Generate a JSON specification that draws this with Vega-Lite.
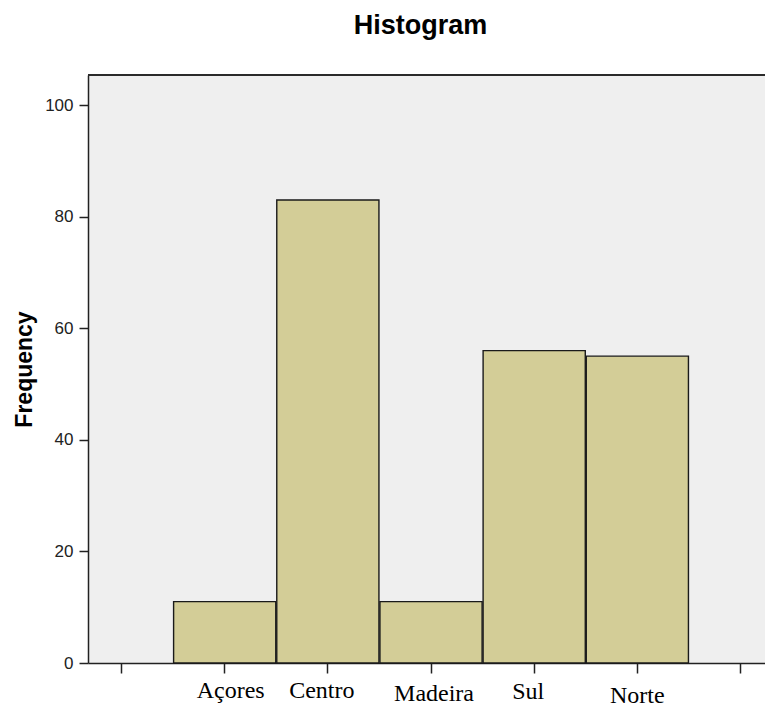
{
  "$schema": "https://vega.github.io/schema/vega-lite/v6.json",
  "width": 677,
  "height": 588,
  "autosize": {"type": "none"},
  "padding": {"left": 88, "top": 75, "right": 0, "bottom": 44},
  "background": "white",
  "title": {
    "text": "Histogram",
    "font": "Liberation Sans",
    "fontSize": 27,
    "fontWeight": "bold",
    "color": "#000000",
    "anchor": "middle",
    "offset": 34,
    "dx": -6
  },
  "config": {
    "view": {"fill": "#efefef", "stroke": null},
    "axis": {"grid": false}
  },
  "data": {
    "values": [
      {"region": "Açores", "bin_start": 1.5, "bin_end": 2.5, "count": 11},
      {"region": "Centro", "bin_start": 2.5, "bin_end": 3.5, "count": 83},
      {"region": "Madeira", "bin_start": 3.5, "bin_end": 4.5, "count": 11},
      {"region": "Sul", "bin_start": 4.5, "bin_end": 5.5, "count": 56},
      {"region": "Norte", "bin_start": 5.5, "bin_end": 6.5, "count": 55}
    ]
  },
  "encoding": {
    "y": {
      "field": "count",
      "type": "quantitative",
      "scale": {"domain": [0, 105.4], "nice": false},
      "axis": {
        "title": "Frequency",
        "titleFont": "Liberation Sans",
        "titleFontSize": 23,
        "titleFontWeight": "bold",
        "titleColor": "#000000",
        "titlePadding": 8,
        "values": [0, 20, 40, 60, 80, 100],
        "labelFont": "Liberation Sans",
        "labelFontSize": 17,
        "labelColor": "#222222",
        "labelPadding": 6,
        "tickSize": 9,
        "tickColor": "#222222",
        "tickWidth": 1.5,
        "domainColor": "#222222",
        "domainWidth": 1.5
      }
    }
  },
  "layer": [
    {
      "mark": {"type": "bar", "fill": "#d3cd97", "stroke": "#1a1a1a", "strokeWidth": 1.4, "opacity": 1},
      "encoding": {
        "x": {
          "field": "bin_start",
          "type": "quantitative",
          "bin": "binned",
          "scale": {"domain": [0.68, 7.242], "nice": false, "zero": false},
          "axis": {
            "title": null,
            "values": [1, 2, 3, 4, 5, 6, 7],
            "labelExpr": "datum.value == 2 ? 'Açores' : datum.value == 3 ? 'Centro' : datum.value == 4 ? 'Madeira' : datum.value == 5 ? 'Sul' : datum.value == 6 ? 'Norte' : ''",
            "labelFont": "Liberation Serif",
            "labelFontSize": 24,
            "labelColor": "#000000",
            "labelPadding": {"expr": "datum.value == 4 ? 8 : datum.value == 5 ? 6 : datum.value == 6 ? 10 : 5"},
            "labelOffset": {"expr": "datum.value == 2 ? 6 : datum.value == 3 ? -6 : datum.value == 4 ? 3 : datum.value == 5 ? -6 : 0"},
            "labelFlush": false,
            "labelOverlap": false,
            "tickSize": 10,
            "tickColor": "#222222",
            "tickWidth": 1.5,
            "domainColor": "#222222",
            "domainWidth": 1.5
          }
        },
        "x2": {"field": "bin_end"}
      }
    },
    {
      "mark": {"type": "rule", "color": "#2a2a2a", "strokeWidth": 2.2},
      "encoding": {"y": {"datum": 105.4}}
    }
  ]
}
